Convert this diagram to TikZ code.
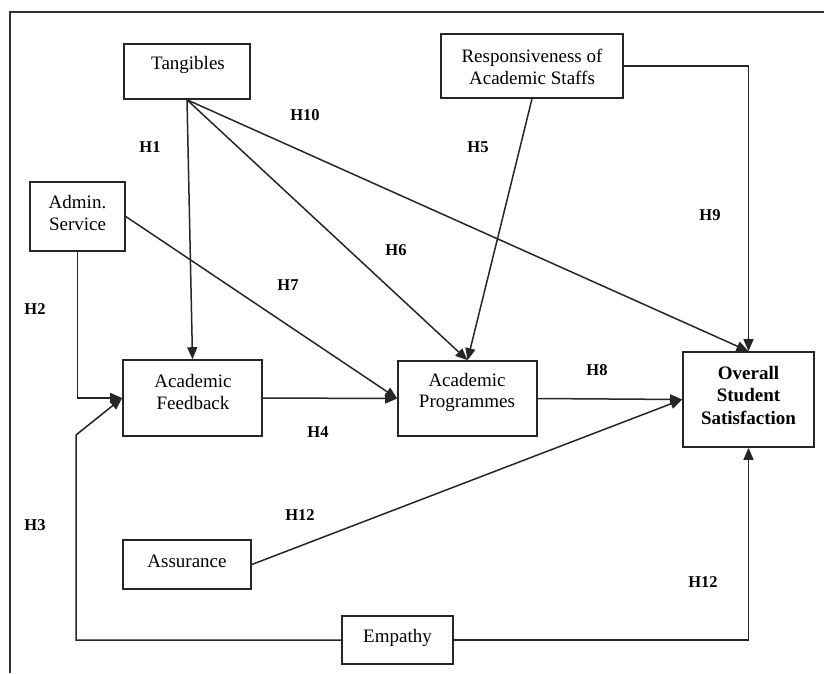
\documentclass[tikz,border=0pt]{standalone}
\usepackage{fontspec}
\setmainfont{Liberation Serif}
\usetikzlibrary{arrows.meta}
\begin{document}
\begin{tikzpicture}[x=1pt,y=-1pt,
  box/.style={draw=black!85, line width=1.6pt, rectangle, inner sep=0pt},
  txt/.style={align=center, font=\fontsize{19}{21.5}\selectfont, inner sep=0pt},
  btxt/.style={txt, font=\fontsize{19}{22.5}\selectfont\bfseries},
  hlab/.style={font=\fontsize{16.5}{18}\selectfont\bfseries, inner sep=0pt},
  conn/.style={draw=black!85, line width=1.5pt},
  arr/.style={conn, -{Triangle[length=12pt,width=10pt]}},
]
\useasboundingbox (0,0) rectangle (824,673);
% frame
\draw[line width=1.5pt, black!80] (10,673) -- (10,12) -- (824,12);

% boxes
\node[box, minimum width=126pt, minimum height=55pt] (tang) at (187,71.5) {};
\node[box, minimum width=182pt, minimum height=64pt] (resp) at (532,66) {};
\node[box, minimum width=95pt, minimum height=69pt] (admin) at (77.5,216.5) {};
\node[box, minimum width=139pt, minimum height=76pt] (feed) at (192.5,398) {};
\node[box, minimum width=139pt, minimum height=75pt] (prog) at (467.5,398.5) {};
\node[box, minimum width=131pt, minimum height=95pt] (overall) at (748.5,399.5) {};
\node[box, minimum width=128pt, minimum height=49pt] (assur) at (187,564.5) {};
\node[box, minimum width=111pt, minimum height=48pt] (emp) at (397.5,640) {};

% texts
\node[txt] (tangT) at (188,65) {Tangibles};
\node[txt] (respT) at (532,67) {Responsiveness of\\Academic Staffs};
\node[txt] (adminT) at (77.5,213) {Admin.\\Service};
\node[txt] (feedT) at (193,392) {Academic\\Feedback};
\node[txt] (progT) at (467,392.5) {Academic\\Programmes};
\node[btxt] (overallT) at (748.5,395) {Overall\\Student\\Satisfaction};
\node[txt] (assurT) at (187,561) {Assurance};
\node[txt] (empT) at (397.5,638) {Empathy};

% corner coordinates
\coordinate (rc) at (overall.north |- resp.east);
\coordinate (ac) at (admin.south |- feed.west);
\coordinate (e1) at (76,640);
\coordinate (e2) at (76,435);
\coordinate (ec) at (overall.south |- emp.east);

% connectors
\draw[arr] (tang.south) -- (feed.north);
\draw[arr] (tang.south) -- (prog.north);
\draw[arr] (tang.south) -- (overall.north);
\draw[arr] (resp.south) -- (prog.north);
\draw[arr] (resp.east) -- (rc) -- (overall.north);
\draw[arr] (admin.east) -- (prog.west);
\draw[arr] (admin.south) -- (ac) -- (feed.west);
\draw[arr] (emp.west) -- (e1) -- (e2) -- (feed.west);
\draw[arr] (feed.east) -- (prog.west);
\draw[arr] (prog.east) -- (overall.west);
\draw[arr] (assur.east) -- (overall.west);
\draw[arr] (emp.east) -- (ec) -- (overall.south);

% hypothesis labels
\node[hlab] (h1) at (150,147) {H1};
\node[hlab] (h10) at (305,115) {H10};
\node[hlab] (h5) at (478,147) {H5};
\node[hlab] (h9) at (710,215) {H9};
\node[hlab] (h2) at (35,309) {H2};
\node[hlab] (h6) at (396,250) {H6};
\node[hlab] (h7) at (288,285) {H7};
\node[hlab] (h8) at (597,370) {H8};
\node[hlab] (h4) at (318,432) {H4};
\node[hlab] (h12a) at (300,515) {H12};
\node[hlab] (h3) at (35,525) {H3};
\node[hlab] (h12b) at (703,582) {H12};
\end{tikzpicture}
\end{document}
